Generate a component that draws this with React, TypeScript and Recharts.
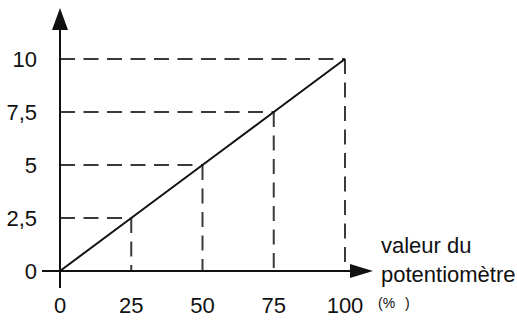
import { LineChart, Line, XAxis, YAxis, ReferenceLine, ReferenceDot } from "recharts";

// potentiometer position (%) vs output value
const positions = [0, 25, 50, 75, 100];
const outputs = [0, 2.5, 5, 7.5, 10];
const xTicks = [0, 25, 50, 75, 100];
const yTicks = [0, 2.5, 5, 7.5, 10];
const xAxisLabel = ["valeur du", "potentiomètre"];
const xAxisUnit = ["(%", ")"];

const data = positions.map((p, i) => ({ x: p, y: outputs[i] }));

const INK = "#111";
const DASH = "#3a3a3a";
const FONT = "'Liberation Sans', Arial, sans-serif";

const YArrow = (props: any) => {
  const { cx, cy } = props;
  return <polygon points={`${cx - 8},${cy} ${cx + 8},${cy} ${cx},${cy - 22}`} fill={INK} />;
};

const XArrow = (props: any) => {
  const { cx, cy } = props;
  return (
    <g>
      <polygon points={`${cx},${cy - 7} ${cx},${cy + 7} ${cx + 23},${cy}`} fill={INK} />
      <text x={cx + 31} y={cy - 18} fontSize={22} fill={INK} fontFamily={FONT}>
        {xAxisLabel[0]}
      </text>
      <text x={cx + 31} y={cy + 11} fontSize={22} fill={INK} fontFamily={FONT}>
        {xAxisLabel[1]}
      </text>
      <text x={cx + 28} y={cy + 37} fontSize={14} fill={INK} fontFamily={FONT}>
        {xAxisUnit[0]}
      </text>
      <text x={cx + 55} y={cy + 37} fontSize={14} fill={INK} fontFamily={FONT}>
        {xAxisUnit[1]}
      </text>
    </g>
  );
};

const App = () => {
  return (
    <div style={{ position: "absolute", left: 0, top: 0, background: "#fff" }}>
      <LineChart
        width={517}
        height={320}
        data={data}
        margin={{ top: 59, right: 172, bottom: 19, left: 0 }}
        style={{ fontFamily: FONT }}
      >
        <XAxis
          dataKey="x"
          type="number"
          domain={[0, 100]}
          ticks={xTicks}
          axisLine={false}
          tickLine={false}
          tickSize={0}
          tickMargin={26}
          height={30}
          tick={{ fill: INK, fontSize: 22 }}
        />
        <YAxis
          type="number"
          domain={[0, 10]}
          ticks={yTicks}
          axisLine={false}
          tickLine={false}
          tickSize={0}
          tickMargin={23}
          width={60}
          tick={{ fill: INK, fontSize: 22 }}
          tickFormatter={(v: number) => String(v).replace(".", ",")}
        />

        {/* dashed guides */}
        {positions.slice(1).map((p, i) => (
          <ReferenceLine
            key={`h${p}`}
            segment={[
              { x: 0, y: outputs[i + 1] },
              { x: p, y: outputs[i + 1] },
            ]}
            stroke={DASH}
            strokeWidth={2}
            strokeDasharray="15 8.5"
            ifOverflow="visible"
          />
        ))}
        {positions.slice(1).map((p, i) => (
          <ReferenceLine
            key={`v${p}`}
            segment={[
              { x: p, y: outputs[i + 1] },
              { x: p, y: 0 },
            ]}
            stroke={DASH}
            strokeWidth={2}
            strokeDasharray="15 8.5"
            ifOverflow="visible"
          />
        ))}

        {/* axes drawn past the domain, with arrows */}
        <ReferenceLine
          segment={[
            { x: 0, y: -0.8 },
            { x: 0, y: 11.4 },
          ]}
          stroke={INK}
          strokeWidth={2}
          ifOverflow="visible"
        />
        <ReferenceLine
          segment={[
            { x: -6.3, y: 0 },
            { x: 102, y: 0 },
          ]}
          stroke={INK}
          strokeWidth={2}
          ifOverflow="visible"
        />
        <ReferenceDot x={0} y={11.37} r={1} ifOverflow="visible" shape={YArrow} />
        <ReferenceDot x={101.75} y={0} r={1} ifOverflow="visible" shape={XArrow} />

        <Line
          type="linear"
          dataKey="y"
          stroke={INK}
          strokeWidth={2}
          dot={false}
          activeDot={false}
          isAnimationActive={false}
        />
      </LineChart>
    </div>
  );
};

export default App;
